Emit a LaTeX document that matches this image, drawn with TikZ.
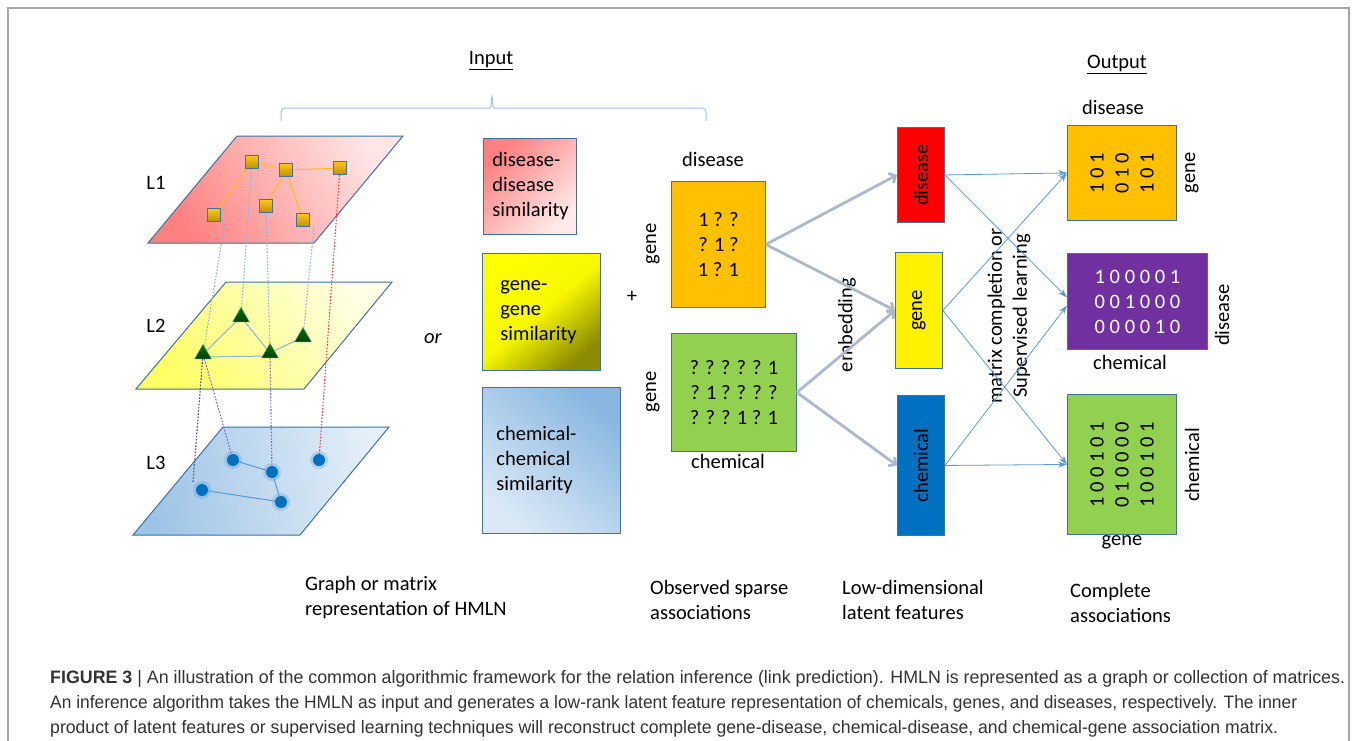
\documentclass[tikz,border=0pt]{standalone}
\usepackage{fontspec}
\usepackage{graphicx}
\setmainfont{Carlito}
\newfontfamily\capfont{Liberation Sans}
\usetikzlibrary{arrows.meta,shapes.geometric,calc}
\pgfdeclarelayer{paper}
\pgfdeclarelayer{planes}
\pgfdeclarelayer{links}
\pgfsetlayers{paper,planes,links,main}
\definecolor{framegray}{HTML}{A6A6A6}
\definecolor{edgeblue}{HTML}{41719C}
\definecolor{lightarrow}{HTML}{5B9BD5}
\definecolor{embedcol}{HTML}{ADB9CA}
\definecolor{bracecol}{HTML}{9DC3E6}
\definecolor{goldc}{HTML}{FFC000}
\definecolor{greenc}{HTML}{92D050}
\definecolor{purplec}{HTML}{7030A0}
\definecolor{bluec}{HTML}{0070C0}
\definecolor{captext}{HTML}{333333}
\definecolor{dotblue}{HTML}{8DB4E2}
\definecolor{dotred}{HTML}{FF3B3B}
\definecolor{dotnavy}{HTML}{3C4F8A}
\definecolor{dotpurple}{HTML}{8F5FC8}
\definecolor{l2edge}{HTML}{8DB3D9}
\begin{document}
\begin{tikzpicture}[x=1pt,y=-1pt,
  font=\fontsize{20.5}{25}\selectfont,
  plane/.style={draw=edgeblue, line width=1pt},
  box/.style={draw=edgeblue, line width=0.9pt, inner sep=0pt, anchor=north west},
  simbox/.style={draw=edgeblue, line width=0.9pt, anchor=north west, align=left, inner ysep=0pt},
  lbl/.style={inner sep=0pt},
  sq/.style={draw=edgeblue, line width=0.9pt, minimum size=13pt, inner sep=0pt, top color=goldc!90!white, bottom color=goldc!75!black},
  tri/.style={regular polygon, regular polygon sides=3, minimum size=19pt, inner sep=0pt, draw=teal!40!gray, line width=0.5pt, top color=green!45!black, bottom color=green!25!black},
  dotc/.style={circle, minimum size=12pt, inner sep=0pt, fill=bluec},
  glow/.style={circle, minimum size=18pt, inner sep=0pt, fill=lightarrow, fill opacity=0.3},
  dotline/.style={line width=1.1pt, dash pattern=on 1.6pt off 1.6pt},
  outarrow/.style={lightarrow, line width=0.8pt, -{Stealth[length=9pt,width=6pt]}},
  embarrow/.style={embedcol, line width=2.8pt, -{Straight Barb[length=5pt,width=11pt]}}
]
\useasboundingbox (0,0) rectangle (1356,740);
\begin{pgfonlayer}{paper}
\fill[white] (0,0) rectangle (1356,740);
\end{pgfonlayer}
\draw[framegray, line width=1.3pt] (8,745) -- (8,8) -- (1349,8) -- (1349,745);

% ---------- headers ----------
\node[lbl] (input) at (491,61) {\underline{Input}};
\node[lbl] (output) at (1117,64) {\underline{Output}};
\coordinate (brL) at (281,121);
\coordinate (brR) at (706,121);
\draw[bracecol, line width=1pt, rounded corners=4pt] (brL) |- (486,108) .. controls (491,108) .. (492,94) .. controls (493,108) .. (498,108) -| (brR);

% ---------- planes ----------
\begin{pgfonlayer}{planes}
\draw[plane, left color=red!50!white, right color=red!10!white, shading angle=120] (237,136) -- (403,136) -- (314,243) -- (148,243) -- cycle;
\draw[plane, left color=yellow!60!white, right color=yellow!10!white, shading angle=125] (226,282) -- (392,282) -- (304,389) -- (136,389) -- cycle;
\draw[plane, left color=lightarrow!60!white, right color=lightarrow!15!white, shading angle=100] (223,427) -- (389,427) -- (300,535) -- (133,535) -- cycle;
\end{pgfonlayer}
\node[lbl] (L1) at (156,183) {L1};
\node[lbl] (L2) at (156,326) {L2};
\node[lbl] (L3) at (156,463) {L3};

% L1 squares
\node[sq] (s1) at (252,162) {};
\node[sq] (s2) at (286,170) {};
\node[sq] (s3) at (340,168) {};
\node[sq] (s4) at (214,215) {};
\node[sq] (s5) at (266,206) {};
\node[sq] (s6) at (303,220) {};
% L2 triangles
\node[tri] (t1) at (241,317) {};
\node[tri] (t2) at (303,337) {};
\node[tri] (t3) at (203,354) {};
\node[tri] (t4) at (270,353) {};
% L3 circles
\node[glow] at (233,460) {};
\node[glow] at (272,472) {};
\node[glow] at (319,460) {};
\node[glow] at (202,490) {};
\node[glow] at (281,502) {};
\node[dotc] (c1) at (233,460) {};
\node[dotc] (c2) at (272,472) {};
\node[dotc] (c3) at (319,460) {};
\node[dotc] (c4) at (202,490) {};
\node[dotc] (c5) at (281,502) {};

\coordinate (d1s) at (225,222);
\coordinate (d4s) at (314,227);
\coordinate (navyend) at (193,482);

\begin{pgfonlayer}{links}
\draw[goldc, line width=0.9pt] (s1) -- (s4) (s1) -- (s2) (s2) -- (s3) (s2) -- (s5) (s2) -- (s6);
\draw[l2edge, line width=1pt] (t1) -- (t3) (t1) -- (t4) (t4) -- (t2);
\draw[l2edge, line width=1pt] ([yshift=-3pt]t3.center) -- ([yshift=-3pt]t4.center);
\draw[lightarrow, line width=1pt] (c1) -- (c2) (c2) -- (c5) (c4) -- (c5);
\draw[dotline, dotblue] (d1s) -- (t3);
\draw[dotline, dotblue] (s1) -- (t1);
\draw[dotline, dotblue] (s5) -- (t4);
\draw[dotline, dotblue] (d4s) -- (t2);
\draw[dotline, dotred] (s3) -- (c3);
\draw[dotline, dotnavy] (t3) -- (navyend);
\draw[dotline, dotpurple] (t3) -- (c1);
\draw[dotline, dotpurple] (t4) -- (c2);
\end{pgfonlayer}

\node[lbl] (or) at (433,339) {\itshape or};

% ---------- similarity boxes ----------
\node[simbox, minimum width=93pt, minimum height=96pt, text width=75pt, inner xsep=9pt, left color=red!50!white, right color=red!8!white, shading angle=45] (simD) at (483,138) {disease-\\disease\\similarity};
\node[simbox, minimum width=109pt, minimum height=117pt, text width=82pt, inner xsep=18pt, left color=yellow, right color=yellow!55!black, middle color=yellow!97!black, shading angle=40] (simG) at (482,253) {gene-\\gene\\similarity};
\node[simbox, minimum width=138pt, minimum height=146pt, text width=110pt, inner xsep=14pt, left color=lightarrow!22!white, right color=lightarrow!72!white, shading angle=140] (simC) at (482,387) {chemical-\\chemical\\similarity};
\node[lbl] (plus) at (632,297) {+};

% ---------- observed ----------
\node[box, fill=goldc, minimum width=94pt, minimum height=126pt, align=center] (ob1) at (671,181) {1 ? ?\\? 1 ?\\1 ? 1};
\node[box, fill=greenc, minimum width=125pt, minimum height=118pt, align=center] (ob2) at (671,333) {? ? ? ? ? 1\\? 1 ? ? ? ?\\? ? ? 1 ? 1};
\node[lbl] (ob1top) at (713,159) {disease};
\node[lbl, rotate=90] (ob1left) at (653,244) {gene};
\node[lbl, rotate=90] (ob2left) at (653,392) {gene};
\node[lbl] (ob2bot) at (728,461) {chemical};

% ---------- latent ----------
\node[box, fill=red, minimum width=47pt, minimum height=95pt] (dz) at (897,127) {};
\node[box, fill=yellow, minimum width=47pt, minimum height=116pt] (gz) at (895,252) {};
\node[box, fill=bluec, minimum width=47pt, minimum height=140pt] (cz) at (897,395) {};
\node[lbl, rotate=90] at (dz.center) {disease};
\node[lbl, rotate=90] at (gz.center) {gene};
\node[lbl, rotate=90] at (cz.center) {chemical};
\node[lbl, rotate=90] (emb) at (847,325) {embedding};
\node[lbl, rotate=90, align=center] (mc) at (1009,316) {matrix completion or\\Supervised learning};

% ---------- outputs ----------
\node[box, fill=goldc, minimum width=109pt, minimum height=95pt] (oo) at (1067,125) {};
\node[box, fill=purplec, minimum width=140pt, minimum height=96pt, align=center, text=white] (op) at (1067,253) {1 0 0 0 0 1\\0 0 1 0 0 0\\0 0 0 0 1 0};
\node[box, fill=greenc, minimum width=109pt, minimum height=140pt] (og) at (1067,394) {};
\node[lbl, rotate=90, align=center] at (oo.center) {1 0 1\\0 1 0\\1 0 1};
\node[lbl, rotate=90, align=center] at (og.center) {1 0 0 1 0 1\\0 1 0 0 0 0\\1 0 0 1 0 1};
\node[lbl] (ootop) at (1113,107) {disease};
\node[lbl, rotate=90] (ooright) at (1192,173) {gene};
\node[lbl, rotate=90] (opright) at (1222,315) {disease};
\node[lbl] (opbot) at (1130,362) {chemical};
\node[lbl, rotate=90] (ogright) at (1192,465) {chemical};
\node[lbl] (ogbot) at (1122,542) {gene};

% ---------- arrows ----------
\draw[embarrow] (ob1.east) -- (dz.west);
\draw[embarrow] (ob1.east) -- (gz.west);
\draw[embarrow] (ob2.east) -- (gz.west);
\draw[embarrow] (ob2.east) -- (cz.west);
\draw[outarrow] (dz.east) -- (oo.west);
\draw[outarrow] (dz.east) -- ([yshift=4pt]op.west);
\draw[outarrow] (gz.east) -- (oo.west);
\draw[outarrow] (gz.east) -- (og.west);
\draw[outarrow] (cz.east) -- ([yshift=-4pt]op.west);
\draw[outarrow] (cz.east) -- (og.west);

% ---------- bottom labels ----------
\node[lbl, anchor=west, align=left] (b1) at (305,598) {Graph or matrix\\representation of HMLN};
\node[lbl, anchor=west, align=left] (b2) at (650,600) {Observed sparse\\associations};
\node[lbl, anchor=west, align=left] (b3) at (842,600) {Low-dimensional\\latent features};
\node[lbl, anchor=west, align=left] (b4) at (1070,603) {Complete\\associations};

% ---------- caption ----------
\begin{scope}[every node/.style={inner sep=0pt, anchor=base west, text=captext, font=\capfont\fontsize{18}{20}\selectfont}]
\node (cap1) at (50,683) {\resizebox{1295pt}{\height}{\textbf{FIGURE 3} | An illustration of the common algorithmic framework for the relation inference (link prediction). HMLN is represented as a graph or collection of matrices.}};
\node (cap2) at (50,708) {\resizebox{1247pt}{\height}{An inference algorithm takes the HMLN as input and generates a low-rank latent feature representation of chemicals, genes, and diseases, respectively. The inner}};
\node (cap3) at (50,733) {\resizebox{1228pt}{\height}{product of latent features or supervised learning techniques will reconstruct complete gene-disease, chemical-disease, and chemical-gene association matrix.}};
\end{scope}
\end{tikzpicture}
\end{document}
